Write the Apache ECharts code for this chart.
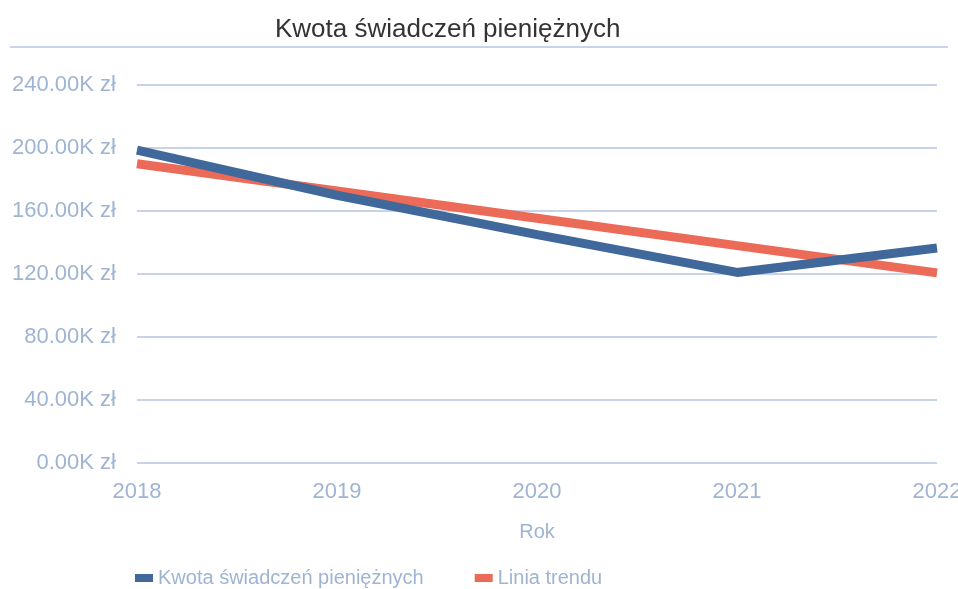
<!DOCTYPE html>
<html>
<head>
<meta charset="utf-8">
<script src="https://cdn.jsdelivr.net/npm/echarts@6/dist/echarts.min.js"></script>
<style>
  html, body { margin: 0; padding: 0; background: #fff; }
  #main { width: 958px; height: 589px; }
</style>
</head>
<body>
<div id="main"></div>
<script>
// dane (w tys. zł)
var years = ['2018', '2019', '2020', '2021', '2022'];
var kwota = [198.7, 170, 145, 121, 136.5];
var trend = [190, 172.7, 155.4, 138, 120.7];
var yTicks = [0, 40, 80, 120, 160, 200, 240];

var myChart = echarts.init(document.getElementById('main'));

var labelColor = '#9fb4d2';
var font = 'Liberation Sans';

var option = {
    backgroundColor: '#fff',
    title: {
        text: 'Kwota świadczeń pieniężnych',
        left: 270,
        top: 12,
        textStyle: { color: '#333', fontSize: 26, fontWeight: 'normal', fontFamily: font }
    },
    graphic: [{
        type: 'line',
        shape: { x1: 10, y1: 47, x2: 948, y2: 47 },
        style: { stroke: '#c7d4ec', lineWidth: 2 }
    }],
    legend: {
        top: 563,
        left: 130,
        icon: 'rect',
        itemWidth: 18,
        itemHeight: 8,
        itemGap: 51,
        textStyle: { color: labelColor, fontSize: 20, fontFamily: font },
        data: ['Kwota świadczeń pieniężnych', 'Linia trendu']
    },
    grid: { left: 137, right: 21, top: 85, bottom: 126, outerBoundsMode: 'none' },
    xAxis: {
        type: 'category',
        boundaryGap: false,
        data: years,
        name: 'Rok',
        nameLocation: 'middle',
        nameGap: 59,
        nameTextStyle: { color: labelColor, fontSize: 20, fontFamily: font },
        axisLine: { show: false },
        axisTick: { show: false },
        axisLabel: { color: labelColor, fontSize: 22, margin: 18, fontFamily: font }
    },
    yAxis: {
        type: 'value',
        min: yTicks[0],
        max: yTicks[yTicks.length - 1],
        interval: 40,
        axisLine: { show: false },
        axisTick: { show: false },
        axisLabel: {
            color: labelColor,
            fontSize: 22,
            margin: 21,
            fontFamily: font,
            formatter: function (v) { return v.toFixed(2) + 'K zł'; }
        },
        splitLine: { lineStyle: { color: '#c9d3e8', width: 2 } }
    },
    series: [
        {
            name: 'Kwota świadczeń pieniężnych',
            type: 'line',
            data: kwota,
            showSymbol: false,
            color: '#41689b',
            lineStyle: { width: 9, color: '#41689b' },
            z: 3
        },
        {
            name: 'Linia trendu',
            type: 'line',
            data: trend,
            showSymbol: false,
            color: '#ec6a58',
            lineStyle: { width: 9, color: '#ec6a58' },
            z: 2
        }
    ]
};
myChart.setOption(option);
</script>
</body>
</html>
